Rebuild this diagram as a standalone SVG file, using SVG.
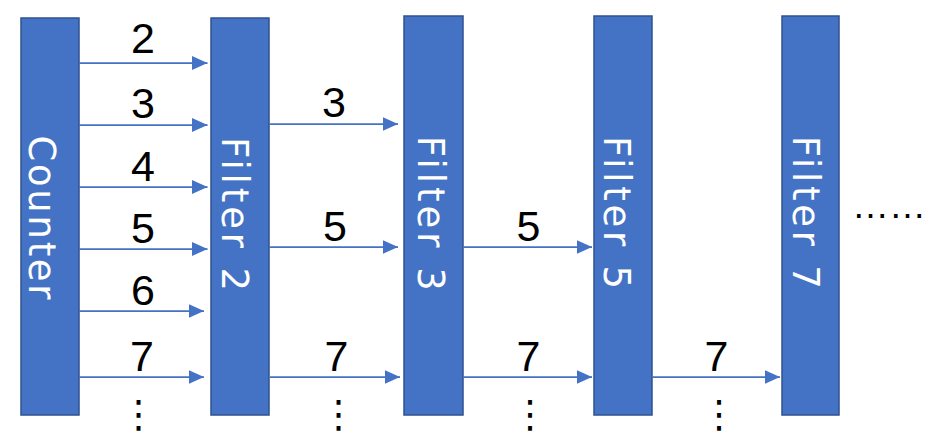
<svg xmlns="http://www.w3.org/2000/svg" width="944" height="444" viewBox="0 0 944 444">
  <style>
    .box { fill: #4472C4; stroke: #2F528F; stroke-width: 1.5; }
    .vlabel { font-family: "DejaVu Sans", "Liberation Sans", sans-serif; font-size: 37px; fill: #FFFFFF; text-anchor: middle; }
    .num { font-family: "Liberation Sans", Arial, sans-serif; font-size: 43px; fill: #000000; text-anchor: middle; }
    .vdots { font-family: "DejaVu Sans", sans-serif; font-size: 38px; fill: #000000; text-anchor: middle; }
    .hdots { font-family: "Liberation Sans", Arial, sans-serif; font-size: 37px; fill: #000000; }
    .arrow { stroke: #4472C4; stroke-width: 1.75; fill: none; marker-end: url(#head); }
  </style>
  <defs>
    <marker id="head" markerUnits="userSpaceOnUse" markerWidth="16" markerHeight="15" refX="15.5" refY="7" orient="auto">
      <path d="M0,0 L15.5,7 L0,14 z" fill="#4472C4"/>
    </marker>
  </defs>
  <rect width="944" height="444" fill="#FFFFFF"/>

  <g id="counter">
    <rect class="box" x="21" y="18" width="58" height="397"/>
    <text class="vlabel" transform="translate(29,217.5) rotate(90)" textLength="164" lengthAdjust="spacing">Counter</text>
  </g>
  <g id="filter2">
    <rect class="box" x="211" y="18" width="58" height="397"/>
    <text class="vlabel" transform="translate(222,214) rotate(90)" textLength="154" lengthAdjust="spacing">Filter 2</text>
  </g>
  <g id="filter3">
    <rect class="box" x="404" y="16" width="59" height="399"/>
    <text class="vlabel" transform="translate(418,213.3) rotate(90)" textLength="155" lengthAdjust="spacing">Filter 3</text>
  </g>
  <g id="filter5">
    <rect class="box" x="594" y="16" width="58" height="399"/>
    <text class="vlabel" transform="translate(603.5,212.5) rotate(90)" textLength="153" lengthAdjust="spacing">Filter 5</text>
  </g>
  <g id="filter7">
    <rect class="box" x="782" y="16" width="57" height="399"/>
    <text class="vlabel" transform="translate(793,212.3) rotate(90)" textLength="153" lengthAdjust="spacing">Filter 7</text>
  </g>

  <g id="connectors">
    <line class="arrow" x1="79" y1="63" x2="207.5" y2="63"/>
    <line class="arrow" x1="79" y1="125" x2="207.5" y2="125"/>
    <line class="arrow" x1="79" y1="187" x2="207.5" y2="187"/>
    <line class="arrow" x1="79" y1="249" x2="207.5" y2="249"/>
    <line class="arrow" x1="79" y1="311" x2="204" y2="311"/>
    <line class="arrow" x1="79" y1="377" x2="204" y2="377"/>

    <line class="arrow" x1="269" y1="124" x2="398" y2="124"/>
    <line class="arrow" x1="269" y1="247" x2="398" y2="247"/>
    <line class="arrow" x1="270" y1="377" x2="400" y2="377"/>

    <line class="arrow" x1="463" y1="247" x2="592" y2="247"/>
    <line class="arrow" x1="463" y1="377" x2="592" y2="377"/>

    <line class="arrow" x1="652" y1="377" x2="780" y2="377"/>
  </g>

  <g id="labels">
    <text class="num" x="143" y="53">2</text>
    <text class="num" x="143" y="118">3</text>
    <text class="num" x="143" y="181">4</text>
    <text class="num" x="143" y="243">5</text>
    <text class="num" x="143" y="305">6</text>
    <text class="num" x="142" y="371">7</text>

    <text class="num" x="334" y="117">3</text>
    <text class="num" x="335" y="241">5</text>
    <text class="num" x="336.5" y="371">7</text>

    <text class="num" x="528.5" y="241">5</text>
    <text class="num" x="528.5" y="371">7</text>

    <text class="num" x="716.5" y="371">7</text>

    <text class="vdots" x="138.5" y="427">⋮</text>
    <text class="vdots" x="338.5" y="427">⋮</text>
    <text class="vdots" x="530" y="427">⋮</text>
    <text class="vdots" x="719" y="427">⋮</text>

    <text class="hdots" x="852" y="218">……</text>
  </g>
</svg>
